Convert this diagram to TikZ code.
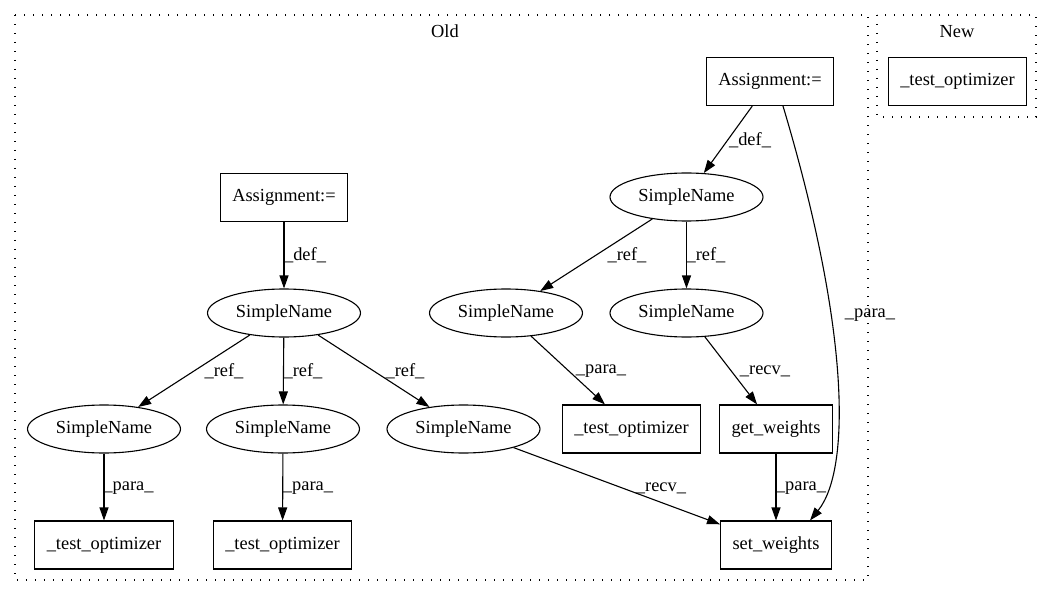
\documentclass[tikz,border=0pt]{standalone}
\usepackage{fontspec}
\setmainfont{Liberation Serif}
\usetikzlibrary{arrows.meta, shapes.geometric}

\tikzset{
  txt/.style={font=\fontsize{18.4}{22}\selectfont},
  box/.style={txt, draw, rectangle, line width=1.1pt, minimum height=48pt, inner xsep=12pt},
  oval/.style={txt, draw, ellipse, line width=1.1pt, minimum width=153pt, minimum height=48pt, inner sep=0pt},
  arr/.style={-{Triangle[length=13pt,width=9pt]}, line width=1.1pt},
  lbl/.style={txt, inner sep=0pt},
  cluster/.style={line width=1.2pt, dash pattern=on 1.4pt off 7.6pt}
}

\begin{document}
\begin{tikzpicture}[x=1pt, y=-1pt]
    \useasboundingbox (0,0) rectangle (1052,596);

    % clusters
    \draw[cluster] (15,15) rectangle (868,580);
    \draw[cluster] (877,15) rectangle (1036,117);
    \node[lbl] (old) at (445,31) {Old};
    \node[lbl] (new) at (957,32) {New};

    % New
    \node[box] (newopt) at (957.5,81.5) {\_test\_optimizer};

    % Old, right part
    \node[box] (asgR) at (770,81.5) {Assignment:=};
    \node[oval] (snR) at (686.5,197) {SimpleName};
    \node[oval] (snRa) at (506,313) {SimpleName};
    \node[oval] (snRb) at (686.5,313) {SimpleName};
    \node[box] (optR) at (631.5,429) {\_test\_optimizer};
    \node[box] (getw) at (776,429) {get\_weights};
    \node[box] (setw) at (776,545) {set\_weights};

    % Old, left part
    \node[box] (asgL) at (284,197.5) {Assignment:=};
    \node[oval] (snL) at (284,313) {SimpleName};
    \node[oval] (snLa) at (104,429) {SimpleName};
    \node[oval] (snLb) at (283,429) {SimpleName};
    \node[oval] (snLc) at (463.5,429) {SimpleName};
    \node[box] (optLa) at (104,545) {\_test\_optimizer};
    \node[box] (optLb) at (282.5,545) {\_test\_optimizer};

    % edges
    \draw[arr] (asgR) -- (snR) node[lbl] at (750,140) {\_def\_};
    \draw[arr] ([xshift=13pt]asgR.south) .. controls (850,330) and (851,470) .. ([xshift=34pt]setw.north)
        node[lbl] at (870,315) {\_para\_};
    \draw[arr] (snR) -- (snRa) node[lbl] at (627,255) {\_ref\_};
    \draw[arr] (snR) -- (snRb) node[lbl] at (706,255) {\_ref\_};
    \draw[arr] (snRa) -- (optR) node[lbl] at (601,371) {\_para\_};
    \draw[arr] (snRb) -- (getw) node[lbl] at (765,371) {\_recv\_};
    \draw[arr] (getw) -- (setw) node[lbl] at (801,488) {\_para\_};

    \draw[arr] (asgL) -- (snL) node[lbl] at (305,255) {\_def\_};
    \draw[arr] (snL) -- (snLa) node[lbl] at (224,371) {\_ref\_};
    \draw[arr] (snL) -- (snLb) node[lbl] at (303,371) {\_ref\_};
    \draw[arr] (snL) -- (snLc) node[lbl] at (405,371) {\_ref\_};
    \draw[arr] (snLa) -- (optLa) node[lbl] at (128.5,488) {\_para\_};
    \draw[arr] (snLb) -- (optLb) node[lbl] at (308,488) {\_para\_};
    \draw[arr] (snLc) -- (setw) node[lbl] at (661,488) {\_recv\_};
\end{tikzpicture}
\end{document}
